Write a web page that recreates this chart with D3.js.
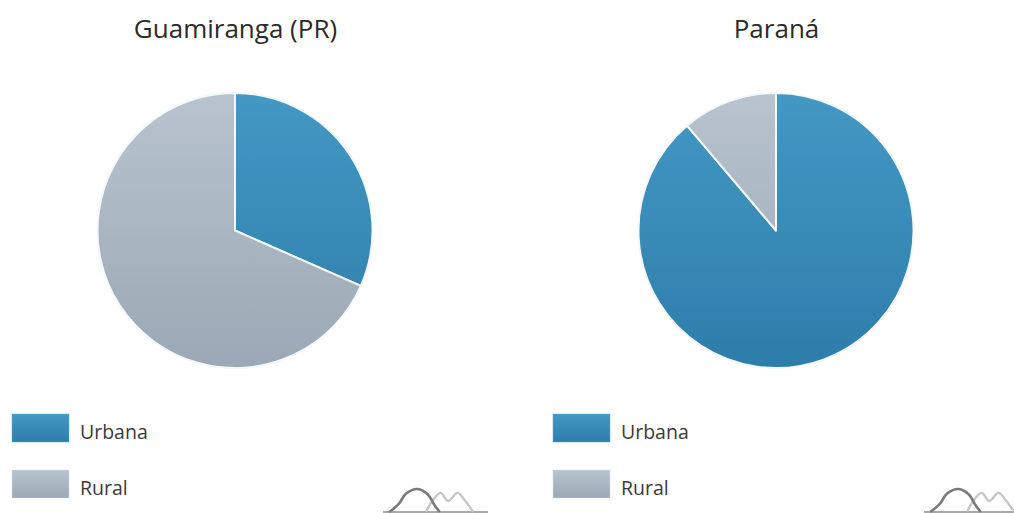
<!DOCTYPE html>
<html lang="pt">
<head>
<meta charset="UTF-8">
<title>População urbana e rural</title>
<script src="https://cdn.jsdelivr.net/npm/d3@7"></script>
<style>
    body { margin: 0; background: #fff; }
    svg { display: block; }
    text { font-family: "Open Sans", "Noto Sans", sans-serif; }
</style>
</head>
<body>
<svg width="1014" height="513"></svg>
<script>
    // dados (% da população)
    var places = ["Guamiranga (PR)", "Paraná"];
    var categories = ["Urbana", "Rural"];
    var urbana = [31.6, 88.8];
    var rural = [68.4, 11.2];

    // logo (curvas decorativas), coordenadas relativas 0..1
    var logoDark = [[0.06, 0], [0.15, 0.35], [0.22, 0.8], [0.33, 1], [0.43, 0.75], [0.49, 0.3], [0.54, 0]];
    var logoLight = [[0.41, 0], [0.48, 0.55], [0.55, 0.83], [0.62, 0.48], [0.71, 0.83], [0.78, 0.5], [0.86, 0]];

    var svg = d3.select("svg");
    var panelOffset = 541;
    var radius = 137.5;

    var colors = { Urbana: ["#4498c4", "#2d7dab"], Rural: ["#b8c3ce", "#9ba8b5"] };

    var defs = svg.append("defs");
    categories.forEach(function (c) {
        var gr = defs.append("linearGradient")
            .attr("id", "grad-" + c)
            .attr("x1", 0).attr("y1", 0).attr("x2", 0).attr("y2", 1);
        gr.append("stop").attr("offset", "0%").attr("stop-color", colors[c][0]);
        gr.append("stop").attr("offset", "100%").attr("stop-color", colors[c][1]);
    });
    // gradiente para as fatias, relativo ao círculo inteiro
    categories.forEach(function (c) {
        var gr = defs.append("linearGradient")
            .attr("id", "pgrad-" + c)
            .attr("gradientUnits", "userSpaceOnUse")
            .attr("x1", 0).attr("y1", -radius).attr("x2", 0).attr("y2", radius);
        gr.append("stop").attr("offset", "0%").attr("stop-color", colors[c][0]);
        gr.append("stop").attr("offset", "100%").attr("stop-color", colors[c][1]);
    });

    var pie = d3.pie().sort(null).value(function (d) { return d.value; });
    var arc = d3.arc().innerRadius(0).outerRadius(radius);

    var lx = d3.scaleLinear().domain([0, 1]).range([383, 488]);
    var ly = d3.scaleLinear().domain([0, 1]).range([512, 489]);
    var logoLine = d3.line()
        .x(function (d) { return lx(d[0]); })
        .y(function (d) { return ly(d[1]); })
        .curve(d3.curveCatmullRom);

    places.forEach(function (name, i) {
        var g = svg.append("g").attr("transform", "translate(" + (i * panelOffset) + ",0)");
        var data = [
            { cat: "Urbana", value: urbana[i] },
            { cat: "Rural", value: rural[i] }
        ];

        g.append("text")
            .attr("x", 235.5)
            .attr("y", 38)
            .attr("text-anchor", "middle")
            .style("font-size", "26px")
            .style("fill", "#2b2b2b")
            .text(name);

        var pg = g.append("g").attr("transform", "translate(235,230.5)");
        pg.selectAll("path")
            .data(pie(data))
            .enter()
            .append("path")
            .attr("d", arc)
            .attr("fill", function (d) { return "url(#pgrad-" + d.data.cat + ")"; })
            .attr("stroke", "#f4f8fb")
            .attr("stroke-width", 2)
            .attr("stroke-linejoin", "round");

        var leg = g.selectAll(".leg")
            .data(categories)
            .enter()
            .append("g")
            .attr("class", "leg")
            .attr("transform", function (d, k) { return "translate(12," + (414 + k * 56) + ")"; });
        leg.append("rect")
            .attr("width", 57)
            .attr("height", 28)
            .attr("fill", function (d) { return "url(#grad-" + d + ")"; })
            .attr("stroke", function (d) { return d3.color(colors[d][0]).brighter(0.4); })
            .attr("stroke-opacity", 0.5)
            .attr("stroke-width", 1);
        leg.append("text")
            .attr("x", 68)
            .attr("y", 25)
            .style("font-size", "19.5px")
            .style("fill", "#3a3a3a")
            .text(function (d) { return d; });

        var logo = g.append("g").attr("fill", "none");
        logo.append("line")
            .attr("x1", lx(0)).attr("x2", lx(1))
            .attr("y1", ly(0)).attr("y2", ly(0))
            .attr("stroke", "#a9a9a9").attr("stroke-width", 2);
        logo.append("path")
            .attr("d", logoLine(logoLight))
            .attr("stroke", "#c6c6c6").attr("stroke-width", 2.4);
        logo.append("path")
            .attr("d", logoLine(logoDark))
            .attr("stroke", "#7a7a7a").attr("stroke-width", 2.6);
    });
</script>
</body>
</html>
